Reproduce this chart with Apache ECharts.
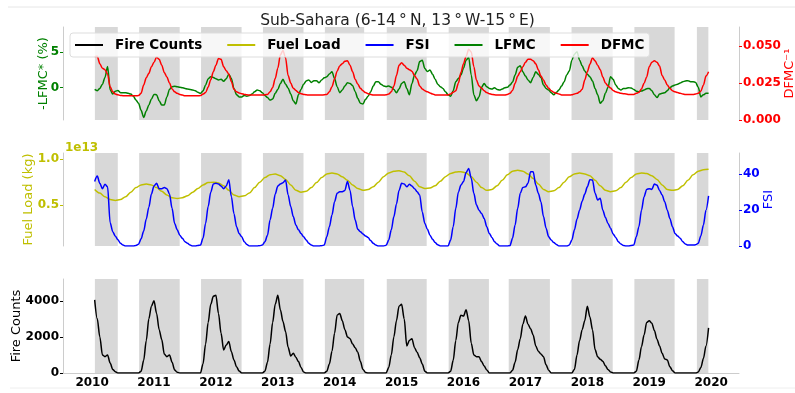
<!DOCTYPE html>
<html lang="en">
<head>
<meta charset="UTF-8">
<title>Sub-Sahara</title>
<script src="https://cdn.jsdelivr.net/npm/echarts@6/dist/echarts.min.js"></script>
<style>
  html, body { margin: 0; background: #fff; }
  #chart { width: 795px; height: 393px; }
</style>
</head>
<body>
<div id="chart"></div>
<script>
  // half-monthly values (1st and 16th of each month), 2010 .. 2019
  const years = [2010, 2011, 2012, 2013, 2014, 2015, 2016, 2017, 2018, 2019]
  const yearTicks = [2010, 2011, 2012, 2013, 2014, 2015, 2016, 2017, 2018, 2019, 2020]

  const fireCounts = [
    null, 4050, 3000, 2000, 1000, 900, 1000, 550, 200, 70, 0, 0, 0, 0, 0, 0, 0, 0, 0, 100, 700, 1800, 3000, 3700,
    4000, 3300, 2400, 1850, 1050, 900, 1000, 600, 170, 40, 0, 0, 0, 0, 0, 0, 0, 0, 0, 500, 1600, 2800, 3800, 4250,
    4300, 3300, 2200, 1280, 1550, 1740, 1180, 720, 350, 110, 0, 0, 0, 0, 0, 0, 0, 0, 0, 100, 600, 1600, 2800, 3800,
    4300, 3500, 2850, 2300, 1420, 940, 1090, 870, 630, 310, 50, 0, 0, 0, 0, 0, 0, 0, 0, 100, 500, 1200, 2200, 3200,
    3300, 2900, 2400, 2000, 1900, 1600, 1400, 1150, 650, 200, 30, 0, 0, 0, 0, 0, 0, 0, 0, 300, 1000, 2000, 2900, 3700,
    3800, 3000, 1500, 1800, 1900, 1400, 1150, 850, 500, 100, 0, 0, 0, 0, 0, 0, 0, 0, 0, 100, 700, 1800, 2800, 3200,
    3150, 3500, 2900, 1650, 1000, 900, 900, 630, 390, 170, 0, 0, 0, 0, 0, 0, 0, 0, 0, 150, 600, 1300, 1900, 2700,
    3150, 2700, 2450, 2100, 1500, 1200, 1050, 900, 450, 150, 0, 0, 0, 0, 0, 0, 0, 0, 0, 200, 1000, 1800, 2400, 2900,
    3700, 3100, 2400, 1300, 900, 760, 650, 400, 200, 60, 0, 0, 0, 0, 0, 0, 0, 0, 0, 100, 720, 1460, 2100, 2800,
    2890, 2760, 2350, 1870, 1500, 1090, 780, 720, 350, 130, 0, 0, 0, 0, 0, 0, 0, 0, 0, 50, 300, 800, 1500, 2500
  ]

  const fsi = [
    null, 36, 39, 35, 32, 34.5, 33, 13, 8, 5.5, 3.5, 1.5, 0.5, 0, 0, 0, 0, 0.3, 1, 4, 8.4, 15, 21.6, 29,
    33.5, 35, 32, 32, 32.7, 32, 29, 21, 12.6, 9, 6, 4.3, 2.4, 1.5, 0.5, 0, 0, 0.3, 0.5, 4.3, 12.6, 22, 30, 34.6,
    35, 34.6, 33.5, 32, 33.5, 37, 27.5, 18, 10.8, 7, 5.2, 2.4, 0.9, 0, 0, 0, 0, 0.2, 0.5, 2.4, 6, 14.5, 21, 29,
    33.5, 34.6, 35.3, 36.8, 28.5, 22, 16.4, 11.7, 9, 7, 5.2, 3.3, 1.5, 0.5, 0, 0, 0, 0.2, 0.5, 5.2, 10.8, 17.3, 24.7, 29.4,
    30.3, 30.3, 31, 36, 31, 22, 14.5, 9.3, 8, 6.7, 5.6, 4.8, 3, 1.5, 0.5, 0, 0, 0, 0.4, 3.3, 9, 16.4, 23.4, 31,
    35, 34.6, 33, 34.4, 33.5, 32, 30.3, 28.5, 19, 12.6, 9.3, 6, 3.7, 1.9, 0.7, 0, 0, 0, 0, 3.3, 10.8, 21, 30, 34,
    36, 41, 43.3, 37.8, 29.4, 23, 20, 18.2, 15.4, 10.8, 7, 4.8, 2.4, 1.1, 0, 0, 0, 0, 0.2, 4.3, 11.7, 21, 29.4, 32.7,
    33, 35, 41.5, 41.5, 34, 29.4, 24.7, 16.4, 9.9, 5.2, 3.3, 1.9, 0.9, 0, 0, 0, 0, 0.5, 3.3, 9, 15, 20, 25, 29,
    33, 37, 36.8, 29.4, 25.7, 26.6, 20, 16, 12.6, 9.9, 6.7, 4.8, 2.4, 1.1, 0.3, 0, 0, 0.3, 0.5, 5.2, 10.8, 20, 27.5, 31.6,
    32, 31.6, 34.6, 34, 31, 28.5, 24.7, 20, 15.4, 10.8, 7, 5.6, 4.3, 2.4, 1.1, 0.5, 0.5, 0.5, 0.7, 1.5, 5.6, 11.7, 20, 28
  ]

  const lfmc = [
    null, -0.24, -0.42, -0.1, 0.5, 1.45, 3.0, -0.3, -0.9, -0.5, -0.4, -0.7, -0.7, -0.7, -0.8, -0.9, -1.2, -1.75, -2.2, -3.2, -4.2, -3.3, -2.45, -1.6,
    -0.95, -1.0, -1.85, -2.45, -2.45, -1.3, -0.24, 0.15, 0.2, 0.15, 0.05, 0, -0.1, -0.2, -0.24, -0.33, -0.42, -0.66, -0.8, -0.47, 0.38, 1.27, 1.55, 1.46,
    1.27, 1.1, 1.2, 0.9, 1.27, 1.9, 1.3, -0.1, -1.0, -1.3, -1.3, -1.1, -1.2, -1.1, -0.9, -0.57, -0.33, -0.42, -0.7, -1.1, -1.4, -1.75, -1.6, -0.8,
    -0.24, 0.6, 1.2, 0.5, -0.05, -0.9, -1.85, -2.3, -1.0, -0.24, 0.5, 0.95, 1.1, 0.75, 1.0, 1.0, 0.7, 1.1, 1.4, 1.55, 1.95, 2.25, 1.3, 0.15,
    -0.7, -0.33, 0.24, 0.7, 0.6, 0.3, -0.57, -1.5, -2.2, -2.3, -1.65, -1.2, -0.57, 0.24, 0.85, 0.85, 0.5, 0.24, 0.15, 0.24, 0.05, -0.24, -0.7, -0.2,
    0.6, 0.85, -0.1, -1.0, 0.6, 1.8, 2.4, 3.7, 3.9, 2.7, 2.3, 2.5, 1.9, 1.2, 0.5, 0.15, -0.1, -0.57, -1.0, -1.2, -0.42, 0.85, 1.3, 1.8,
    2.75, 3.9, 4.3, 1.8, -1.0, -1.85, -1.3, 0.05, 0.6, 0.15, -0.1, -0.2, 0, -0.24, -0.33, -0.2, 0, 0.05, 0.38, 0.8, 1.8, 2.9, 3.1, 2.25,
    1.65, 1.1, 0.7, 1.46, 2.25, 1.9, 1.46, 0.38, -0.1, -0.33, -0.7, -1.0, -0.66, -0.33, 0.24, 0.85, 1.8, 2.36, 3.9, 4.75, 5.1, 3.9, 3.1, 2.36,
    1.9, 1.55, 0.95, -0.1, -1.0, -2.2, -1.85, -0.8, 0.05, 1.55, 1.2, 0.38, -0.1, -0.33, -0.1, -0.1, 0, -0.05, -0.24, -0.5, -0.57, -0.47, -0.33, -0.14,
    -0.1, -0.42, -1.0, -1.4, -0.9, -0.8, -0.7, -0.42, 0, 0.24, 0.38, 0.5, 0.66, 0.85, 0.95, 1.0, 0.85, 0.85, 0.75, 0.05, -1.3, -1.0, -0.8, -0.8
  ]

  const dfmcInv = [
    null, 0.0428, 0.043, 0.038, 0.035, 0.034, 0.031, 0.0225, 0.019, 0.0175, 0.017, 0.0166, 0.0164, 0.0164, 0.0164, 0.0164, 0.0164, 0.0164, 0.0165, 0.018, 0.0236, 0.0285, 0.0315, 0.036,
    0.039, 0.0425, 0.041, 0.037, 0.032, 0.029, 0.025, 0.021, 0.019, 0.018, 0.0172, 0.0168, 0.0164, 0.0164, 0.0164, 0.0164, 0.0164, 0.0164, 0.0165, 0.0175, 0.0185, 0.0222, 0.0272, 0.0326,
    0.037, 0.0416, 0.041, 0.036, 0.0333, 0.031, 0.026, 0.0207, 0.019, 0.0182, 0.0178, 0.0173, 0.017, 0.0169, 0.0169, 0.0169, 0.0169, 0.0169, 0.0169, 0.017, 0.0173, 0.019, 0.022, 0.028,
    0.035, 0.044, 0.047, 0.042, 0.030, 0.025, 0.0214, 0.020, 0.0185, 0.0178, 0.0173, 0.017, 0.0169, 0.0169, 0.0169, 0.0169, 0.0169, 0.0169, 0.017, 0.0173, 0.019, 0.0225, 0.0277, 0.033,
    0.0365, 0.038, 0.0396, 0.040, 0.037, 0.0326, 0.0275, 0.0243, 0.0214, 0.0198, 0.0185, 0.0178, 0.0173, 0.0169, 0.0169, 0.0169, 0.0169, 0.0169, 0.017, 0.0176, 0.019, 0.023, 0.030, 0.037,
    0.0387, 0.037, 0.035, 0.034, 0.033, 0.030, 0.0277, 0.023, 0.021, 0.0198, 0.019, 0.0182, 0.0176, 0.0169, 0.0169, 0.0169, 0.0169, 0.0169, 0.0169, 0.0176, 0.0187, 0.0198, 0.0248, 0.032,
    0.038, 0.043, 0.0477, 0.046, 0.036, 0.027, 0.023, 0.0214, 0.0198, 0.0185, 0.0178, 0.0173, 0.017, 0.0169, 0.0169, 0.0169, 0.0169, 0.0173, 0.018, 0.020, 0.0248, 0.0297, 0.0326, 0.036,
    0.039, 0.041, 0.041, 0.040, 0.038, 0.034, 0.0297, 0.027, 0.0236, 0.0214, 0.0198, 0.0187, 0.018, 0.0176, 0.0169, 0.0169, 0.0169, 0.0169, 0.017, 0.0176, 0.018, 0.019, 0.0207, 0.027,
    0.0326, 0.0376, 0.042, 0.040, 0.037, 0.034, 0.029, 0.025, 0.023, 0.0216, 0.020, 0.019, 0.0185, 0.018, 0.0178, 0.0176, 0.0173, 0.0173, 0.0173, 0.018, 0.0187, 0.021, 0.0248, 0.029,
    0.036, 0.039, 0.040, 0.039, 0.0365, 0.030, 0.027, 0.0236, 0.0214, 0.0198, 0.019, 0.0185, 0.018, 0.0176, 0.0173, 0.0173, 0.0173, 0.0173, 0.0176, 0.018, 0.0194, 0.0236, 0.0297, 0.0326
  ]

  // monthly (mid-month), units of 1e13 kg
  const fuelLoad = [
    0.67, 0.63, 0.59, 0.56, 0.55, 0.56, 0.59, 0.64, 0.69, 0.72, 0.73, 0.72,
    0.69, 0.65, 0.61, 0.58, 0.57, 0.58, 0.60, 0.64, 0.68, 0.72, 0.745, 0.75,
    0.74, 0.71, 0.66, 0.61, 0.59, 0.60, 0.63, 0.69, 0.75, 0.80, 0.83, 0.84,
    0.82, 0.78, 0.72, 0.66, 0.64, 0.65, 0.69, 0.745, 0.80, 0.84, 0.85, 0.84,
    0.81, 0.77, 0.72, 0.68, 0.66, 0.67, 0.70, 0.75, 0.81, 0.85, 0.87, 0.875,
    0.86, 0.82, 0.76, 0.70, 0.68, 0.685, 0.71, 0.76, 0.81, 0.845, 0.86, 0.865,
    0.85, 0.81, 0.75, 0.69, 0.66, 0.67, 0.71, 0.77, 0.83, 0.87, 0.88, 0.87,
    0.84, 0.79, 0.73, 0.67, 0.646, 0.655, 0.69, 0.75, 0.81, 0.84, 0.85, 0.84,
    0.82, 0.77, 0.71, 0.66, 0.646, 0.655, 0.69, 0.75, 0.80, 0.84, 0.85, 0.845,
    0.82, 0.78, 0.72, 0.67, 0.66, 0.67, 0.71, 0.77, 0.83, 0.87, 0.885, 0.89
  ]

  // dry / fire seasons shaded in grey (decimal years)
  const seasons = [
    [2010.045, 2010.415], [2010.76, 2011.415], [2011.76, 2012.415], [2012.76, 2013.415],
    [2013.76, 2014.395], [2014.76, 2015.405], [2015.76, 2016.41], [2016.73, 2017.395],
    [2017.745, 2018.41], [2018.76, 2019.41], [2019.77, 2019.955]
  ]

  const halfMonthX = []
  years.forEach(y => { for (let k = 0; k < 24; k++) halfMonthX.push(y + k / 24) })
  const monthX = []
  years.forEach(y => { for (let m = 0; m < 12; m++) monthX.push(y + (m + 0.5) / 12) })
  const pairs = (xs, ys) => xs.map((x, i) => [x, ys[i]])

  const FONT = 'DejaVu Sans'
  const SPINE = '#cccccc'
  const SHADE = '#d8d8d8'
  const cOlive = '#bfbf00', cGreen = '#008000', cRed = '#ff0000', cBlue = '#0000ff'

  function xAx(i, last) {
    return {
      type: 'value', gridIndex: i, min: 2009.53, max: 2020.45,
      splitLine: { show: false },
      axisLine: { show: last, lineStyle: { color: SPINE } },
      axisTick: { show: false },
      axisLabel: {
        show: last, customValues: yearTicks, margin: 4,
        color: '#000', fontFamily: FONT, fontWeight: 'bold', fontSize: 12,
        formatter: v => String(Math.round(v))
      }
    }
  }

  function yAx(i, pos, min, max, ticks, color, name, gap, fmt) {
    return {
      type: 'value', gridIndex: i, position: pos, min: min, max: max,
      name: name, nameLocation: 'middle', nameRotate: 90, nameGap: gap, nameMoveOverlap: false,
      nameTextStyle: { color: color, fontFamily: FONT, fontSize: 13 },
      splitLine: { show: false },
      axisLine: { show: true, lineStyle: { color: SPINE } },
      axisTick: { show: true, customValues: ticks, length: 3, lineStyle: { color: color } },
      axisLabel: {
        customValues: ticks, margin: 4, color: color,
        fontFamily: FONT, fontWeight: 'bold', fontSize: 12,
        formatter: fmt || (v => String(v))
      }
    }
  }

  function bands(i) {
    return {
      type: 'line', xAxisIndex: i, yAxisIndex: [0, 2, 4][i], data: [], z: 1, silent: true,
      markArea: {
        silent: true, itemStyle: { color: SHADE },
        data: seasons.map(s => [{ xAxis: s[0] }, { xAxis: s[1] }])
      }
    }
  }

  function line(name, xi, yi, data, color) {
    return {
      name: name, type: 'line', xAxisIndex: xi, yAxisIndex: yi, data: data,
      showSymbol: false, smooth: 0.3, smoothMonotone: 'x', z: 3,
      lineStyle: { color: color, width: 1.5 }, itemStyle: { color: color }
    }
  }

  const chart = echarts.init(document.getElementById('chart'))
  chart.setOption({
    animation: false,
    backgroundColor: '#fff',
    title: {
      text: 'Sub-Sahara (6-14\u2009°\u2009N, 13\u2009°\u2009W-15\u2009°\u2009E)',
      left: 'center', top: 8,
      textStyle: { fontFamily: FONT, fontSize: 15.5, fontWeight: 'normal', color: '#222' }
    },
    legend: {
      data: ['Fire Counts', 'Fuel Load', 'FSI', 'LFMC', 'DFMC'],
      left: 70, top: 33, icon: 'rect', itemWidth: 28, itemHeight: 2, itemGap: 25,
      padding: [5, 5], backgroundColor: 'rgba(255,255,255,0.8)',
      borderColor: '#dddddd', borderWidth: 1, borderRadius: 3,
      textStyle: { fontFamily: FONT, fontWeight: 'bold', fontSize: 13.5, color: '#000', padding: [0, 0, 0, 7] }
    },
    grid: [
      { left: 63, right: 56, top: 27, height: 93, outerBoundsMode: 'none' },
      { left: 63, right: 56, top: 153, height: 93, outerBoundsMode: 'none' },
      { left: 63, right: 56, top: 279, height: 94, outerBoundsMode: 'none' }
    ],
    xAxis: [xAx(0, false), xAx(1, false), xAx(2, true)],
    yAxis: [
      yAx(0, 'left', -4.57, 8.59, [0, 5], cGreen, '-LFMC* (%)', 13),
      yAx(0, 'right', 0, 0.0628, [0, 0.025, 0.05], cRed, 'DFMC\u207B\u00B9', 44, v => v.toFixed(3)),
      yAx(1, 'left', 0.051, 1.069, [0.5, 1.0], cOlive, 'Fuel Load (kg)', 28, v => v.toFixed(1)),
      yAx(1, 'right', 0, 51.9, [0, 20, 40], cBlue, 'FSI', 23),
      yAx(2, 'left', 0, 5205, [0, 2000, 4000], '#000', 'Fire Counts', 40)
    ],
    graphic: [
      { type: 'text', left: 65, top: 142, style: { text: '1e13', fill: cOlive, font: 'bold 12px "DejaVu Sans"' } },
      { type: 'line', shape: { x1: 8, y1: 7, x2: 795, y2: 7 }, style: { stroke: '#e6e6e6', lineWidth: 1 } },
      { type: 'line', shape: { x1: 10, y1: 388, x2: 795, y2: 388 }, style: { stroke: '#eeeeee', lineWidth: 1 } }
    ],
    series: [
      bands(0), bands(1), bands(2),
      line('Fire Counts', 2, 4, pairs(halfMonthX, fireCounts), '#000'),
      line('Fuel Load', 1, 2, pairs(monthX, fuelLoad), cOlive),
      line('FSI', 1, 3, pairs(halfMonthX, fsi), cBlue),
      line('LFMC', 0, 0, pairs(halfMonthX, lfmc), cGreen),
      line('DFMC', 0, 1, pairs(halfMonthX, dfmcInv), cRed)
    ]
  })
</script>
</body>
</html>
